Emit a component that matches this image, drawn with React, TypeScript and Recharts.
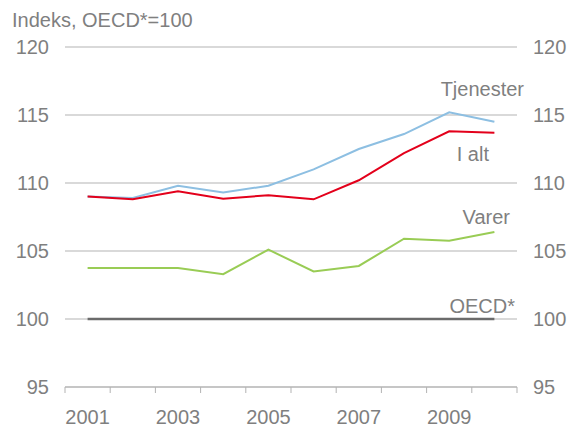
import { LineChart, Line, XAxis, YAxis, CartesianGrid } from 'recharts';

const years = [2001, 2002, 2003, 2004, 2005, 2006, 2007, 2008, 2009, 2010];
const tjenester = [109.0, 108.9, 109.8, 109.3, 109.8, 111.0, 112.5, 113.6, 115.2, 114.5];
const iAlt = [109.0, 108.8, 109.4, 108.85, 109.1, 108.8, 110.2, 112.2, 113.8, 113.7];
const varer = [103.75, 103.75, 103.75, 103.3, 105.1, 103.5, 103.9, 105.9, 105.75, 106.4];
const oecd = [100, 100, 100, 100, 100, 100, 100, 100, 100, 100];

const yTicks = [95, 100, 105, 110, 115, 120];
const xTicks = [2000.5, 2001, 2001.5, 2002.5, 2003, 2003.5, 2004.5, 2005, 2005.5, 2006.5, 2007, 2007.5, 2008.5, 2009, 2009.5, 2010.5];

const labels = [
  { text: 'Indeks, OECD*=100', x: 12, y: 27, anchor: 'start' },
  { text: 'Tjenester', x: 524, y: 96, anchor: 'end' },
  { text: 'I alt', x: 489, y: 161, anchor: 'end' },
  { text: 'Varer', x: 510, y: 224, anchor: 'end' },
  { text: 'OECD*', x: 515, y: 313, anchor: 'end' },
];

const data = years.map((year, i) => ({
  year,
  tjenester: tjenester[i],
  iAlt: iAlt[i],
  varer: varer[i],
  oecd: oecd[i],
}));

const FONT = '"Liberation Sans", Arial, sans-serif';
const GREY = '#7f7f7f';

// tick marks sit on band edges (x.5), labels on odd years
const XTick = (props: any) => {
  const { x, y, payload } = props;
  const v = payload.value;
  if (v % 1 !== 0) {
    return <line x1={x} x2={x} y1={y} y2={y + 6} stroke="#b3b3b3" strokeWidth={1} />;
  }
  return (
    <text x={x} y={y + 37} textAnchor="middle" fill={GREY} fontSize={20} fontFamily={FONT}>
      {v}
    </text>
  );
};

export default function App() {
  return (
    <div style={{ position: 'absolute', left: 0, top: 0, width: 577, height: 427, background: '#fff' }}>
      <LineChart width={577} height={427} data={data} margin={{ top: 47, right: 0, bottom: 0, left: 0 }}>
        <CartesianGrid vertical={false} stroke="#b3b3b3" strokeWidth={1} yAxisId="left" />
        <XAxis
          dataKey="year"
          type="number"
          domain={[2000.5, 2010.5]}
          ticks={xTicks}
          interval={0}
          tick={<XTick />}
          tickLine={false}
          tickSize={0}
          tickMargin={0}
          axisLine={{ stroke: '#b3b3b3' }}
          height={40}
        />
        <YAxis
          yAxisId="left"
          orientation="left"
          domain={[95, 120]}
          ticks={yTicks}
          interval={0}
          width={65}
          axisLine={false}
          tickLine={false}
          tickMargin={10}
          tick={{ fill: GREY, fontSize: 20, fontFamily: FONT }}
        />
        <YAxis
          yAxisId="right"
          orientation="right"
          domain={[95, 120]}
          ticks={yTicks}
          interval={0}
          width={60}
          axisLine={false}
          tickLine={false}
          tickMargin={10}
          tick={{ fill: GREY, fontSize: 20, fontFamily: FONT, textAnchor: 'start' }}
        />
        <Line yAxisId="right" dataKey="oecd" stroke="#6b6b6b" strokeWidth={2.5} dot={false} isAnimationActive={false} />
        <Line yAxisId="left" dataKey="varer" stroke="#99cc55" strokeWidth={2} dot={false} isAnimationActive={false} />
        <Line yAxisId="left" dataKey="tjenester" stroke="#8dbfe2" strokeWidth={2} dot={false} isAnimationActive={false} />
        <Line yAxisId="left" dataKey="iAlt" stroke="#e3001b" strokeWidth={2} dot={false} isAnimationActive={false} />
      </LineChart>
      <svg width={577} height={427} style={{ position: 'absolute', left: 0, top: 0, pointerEvents: 'none' }}>
        {labels.map((l) => (
          <text key={l.text} x={l.x} y={l.y} textAnchor={l.anchor as any} fill={GREY} fontSize={20} fontFamily={FONT}>
            {l.text}
          </text>
        ))}
      </svg>
    </div>
  );
}
